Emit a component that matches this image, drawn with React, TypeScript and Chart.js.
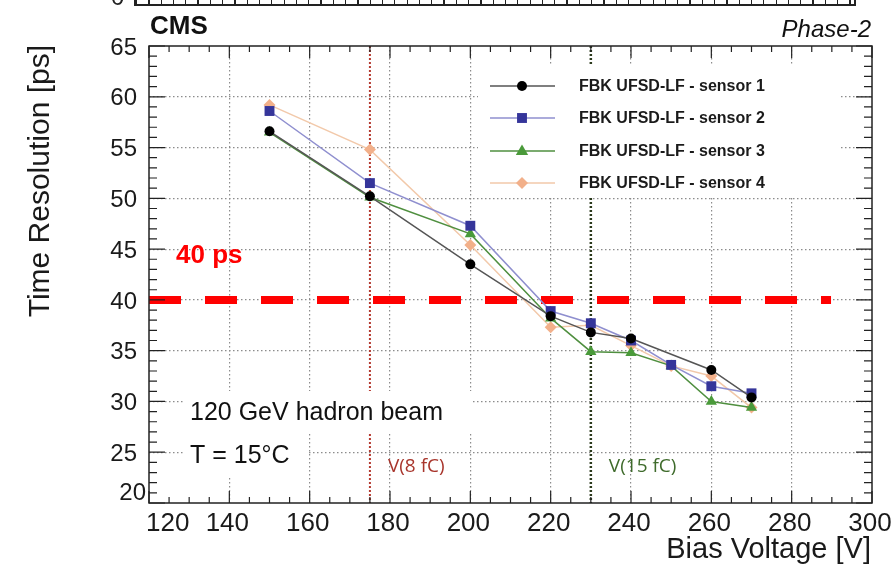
import React, { useEffect, useRef } from "react";
import { Chart, registerables } from "chart.js";

Chart.register(...registerables);

// ---------- data ----------
const seriesLabels = [
  "FBK UFSD-LF - sensor 1",
  "FBK UFSD-LF - sensor 2",
  "FBK UFSD-LF - sensor 3",
  "FBK UFSD-LF - sensor 4",
];
const voltagesSensor1 = [150, 175, 200, 220, 230, 240, 260, 270];
const voltagesOthers = [150, 175, 200, 220, 230, 240, 250, 260, 270];
const sensor1 = [56.6, 50.2, 43.5, 38.4, 36.8, 36.2, 33.1, 30.4];
const sensor2 = [58.6, 51.5, 47.3, 38.9, 37.7, 36.0, 33.6, 31.5, 30.8];
const sensor3 = [56.5, 50.1, 46.5, 38.2, 34.9, 34.8, 33.5, 30.0, 29.4];
const sensor4 = [59.2, 54.8, 45.4, 37.3, 37.5, 35.5, 33.5, 32.5, 29.4];

const xTickValues = [120, 140, 160, 180, 200, 220, 240, 260, 280, 300];
const yTickValues = [20, 25, 30, 35, 40, 45, 50, 55, 60, 65];
const xRange = [120, 300];
const yRange = [20, 65];

const thresholdValue = 40;
const thresholdSpan = [120, 289.8];
const thresholdLabel = "40 ps";

const chargeLineValues = [175, 230];
const chargeLineLabels = ["V(8 fC)", "V(15 fC)"];

const infoLines = ["120 GeV hadron beam", "T = 15°C"];

// ---------- styles ----------
const FONT = '"Liberation Sans", Arial, Helvetica, sans-serif';
const lineColors = ["#555555", "#8f8fcf", "#4f8f3f", "#f2c9aa"];
const markerColors = ["#000000", "#35359a", "#4a9a3a", "#f2b08a"];
const markerStyles = ["circle", "rect", "triangle", "rectRot"];
const markerRadii = [5, 7, 6.5, 6];

function drawMarker(ctx: CanvasRenderingContext2D, style: string, x: number, y: number, r: number, color: string) {
  ctx.fillStyle = color;
  ctx.beginPath();
  if (style === "circle") {
    ctx.arc(x, y, r, 0, Math.PI * 2);
  } else if (style === "rect") {
    const s = r * Math.SQRT1_2;
    ctx.rect(x - s, y - s, 2 * s, 2 * s);
  } else if (style === "triangle") {
    ctx.moveTo(x, y - r);
    ctx.lineTo(x + r * 0.95, y + r * 0.6);
    ctx.lineTo(x - r * 0.95, y + r * 0.6);
    ctx.closePath();
  } else {
    ctx.moveTo(x, y - r);
    ctx.lineTo(x + r, y);
    ctx.lineTo(x, y + r);
    ctx.lineTo(x - r, y);
    ctx.closePath();
  }
  ctx.fill();
}

const decorPlugin = {
  id: "decor",
  beforeDatasetsDraw(chart: any) {
    const { ctx, chartArea: a, scales } = chart;
    const x = scales.x;
    ctx.save();
    // charge reference lines
    const chargeColors = ["#b5392f", "#2b3a1c"];
    const chargeWidths = [2, 2.5];
    chargeLineValues.forEach((v, i) => {
      const px = x.getPixelForValue(v);
      ctx.strokeStyle = chargeColors[i];
      ctx.lineWidth = chargeWidths[i];
      ctx.setLineDash([2, 2]);
      ctx.beginPath();
      ctx.moveTo(px, a.top);
      ctx.lineTo(px, a.bottom);
      ctx.stroke();
    });
    ctx.setLineDash([]);

    // white boxes behind legend and text
    ctx.fillStyle = "#ffffff";
    ctx.fillRect(478, 64, 362, 132);
    ctx.fillRect(184, 391, 288, 42);
    ctx.fillRect(184, 433, 123, 45);

    // info text
    ctx.fillStyle = "#111111";
    ctx.font = `25px ${FONT}`;
    ctx.textAlign = "left";
    ctx.textBaseline = "middle";
    ctx.fillText(infoLines[0], 190, 413);
    ctx.fillText(infoLines[1], 190, 456);

    // charge labels
    const labelColors = ["#a8352c", "#3f6b2c"];
    ctx.font = `19px "Open Sans", ${FONT}`;
    chargeLineValues.forEach((v, i) => {
      ctx.fillStyle = labelColors[i];
      ctx.fillText(chargeLineLabels[i], x.getPixelForValue(v) + 18, 467);
    });

    // threshold label
    ctx.fillStyle = "#ff0000";
    ctx.font = `bold 26px ${FONT}`;
    ctx.fillText(thresholdLabel, 176, 256);

    // legend
    const rows = [86, 118, 151, 183];
    seriesLabels.forEach((lab, i) => {
      const ry = rows[i];
      ctx.strokeStyle = lineColors[i];
      ctx.lineWidth = 1.5;
      ctx.beginPath();
      ctx.moveTo(490, ry);
      ctx.lineTo(555, ry);
      ctx.stroke();
      drawMarker(ctx, markerStyles[i], 522, ry, markerRadii[i], markerColors[i]);
      ctx.fillStyle = "#1a1a1a";
      ctx.font = `bold 16px ${FONT}`;
      ctx.fillText(lab, 579, ry + 1);
    });
    ctx.restore();
  },
  afterDraw(chart: any) {
    const { ctx, chartArea: a, scales } = chart;
    const x = scales.x;
    const y = scales.y;
    ctx.save();
    ctx.strokeStyle = "#222222";
    ctx.lineWidth = 1.5;
    ctx.strokeRect(a.left, a.top, a.right - a.left, a.bottom - a.top);

    ctx.lineWidth = 1.2;
    ctx.beginPath();
    for (let v = xRange[0]; v <= xRange[1]; v += 5) {
      const px = x.getPixelForValue(v);
      const len = v % 20 === 0 ? 12 : 6;
      ctx.moveTo(px, a.bottom);
      ctx.lineTo(px, a.bottom - len);
      ctx.moveTo(px, a.top);
      ctx.lineTo(px, a.top + len);
    }
    for (let v = yRange[0]; v <= yRange[1]; v += 1) {
      const py = y.getPixelForValue(v);
      const len = v % 5 === 0 ? 16 : 8;
      ctx.moveTo(a.left, py);
      ctx.lineTo(a.left + len, py);
      ctx.moveTo(a.right, py);
      ctx.lineTo(a.right - len, py);
    }
    ctx.stroke();

    // tick labels
    ctx.fillStyle = "#1a1a1a";
    ctx.font = `26px ${FONT}`;
    ctx.textBaseline = "top";
    xTickValues.forEach((v, i) => {
      const px = x.getPixelForValue(v);
      ctx.textAlign = i === 0 ? "left" : "center";
      ctx.fillText(String(v), i === 0 ? px - 3 : px - 2, a.bottom + 8);
    });
    ctx.font = `24px ${FONT}`;
    ctx.textBaseline = "middle";
    ctx.textAlign = "right";
    yTickValues.forEach((v, i) => {
      const py = y.getPixelForValue(v);
      if (i === 0) {
        ctx.fillText(String(v), a.left - 3, py - 10);
      } else {
        ctx.fillText(String(v), a.left - 12, py + 2);
      }
    });

    // axis titles
    ctx.font = `29px ${FONT}`;
    ctx.textAlign = "right";
    ctx.textBaseline = "alphabetic";
    ctx.fillText("Bias Voltage [V]", a.right - 1, 558);
    ctx.save();
    ctx.font = `30px ${FONT}`;
    ctx.translate(41, 45);
    ctx.rotate(-Math.PI / 2);
    ctx.textBaseline = "middle";
    ctx.textAlign = "right";
    ctx.fillText("Time Resolution [ps]", 0, 0);
    ctx.restore();

    // CMS / Phase-2
    ctx.fillStyle = "#111111";
    ctx.textAlign = "left";
    ctx.textBaseline = "middle";
    ctx.font = `bold 26px ${FONT}`;
    ctx.fillText("CMS", a.left + 1, 27);
    ctx.textAlign = "right";
    ctx.font = `italic 24px ${FONT}`;
    ctx.fillText("Phase-2", a.right - 1, 30);
    ctx.restore();
  },
};

function toPoints(xs: number[], ys: number[]) {
  return xs.map((v, i) => ({ x: v, y: ys[i] }));
}

export default function App() {
  const canvasRef = useRef<HTMLCanvasElement | null>(null);

  useEffect(() => {
    const canvas = canvasRef.current;
    if (!canvas) return;
    const seriesX = [voltagesSensor1, voltagesOthers, voltagesOthers, voltagesOthers];
    const seriesY = [sensor1, sensor2, sensor3, sensor4];
    const datasets: any[] = seriesLabels.map((lab, i) => ({
      label: lab,
      data: toPoints(seriesX[i], seriesY[i]),
      borderColor: lineColors[i],
      borderWidth: 1.5,
      pointStyle: markerStyles[i],
      pointRadius: markerRadii[i],
      pointBackgroundColor: markerColors[i],
      pointBorderColor: markerColors[i],
      pointBorderWidth: 0,
      tension: 0,
      fill: false,
    }));
    datasets.push({
      label: "threshold",
      data: thresholdSpan.map((v) => ({ x: v, y: thresholdValue })),
      borderColor: "#ff0000",
      borderWidth: 8,
      borderDash: [32, 24],
      borderCapStyle: "butt",
      pointRadius: 0,
      fill: false,
    });

    const gridColor = (min: number, max: number) => (c: any) =>
      c.tick && (c.tick.value === min || c.tick.value === max) ? "rgba(0,0,0,0)" : "#8c8c8c";

    const chart = new Chart(canvas, {
      type: "line",
      data: { datasets },
      plugins: [decorPlugin],
      options: {
        animation: false,
        responsive: false,
        devicePixelRatio: 1,
        layout: { padding: { left: 149, right: 23, top: 46, bottom: 62 } },
        plugins: { legend: { display: false }, tooltip: { enabled: false } },
        scales: {
          x: {
            type: "linear",
            min: xRange[0],
            max: xRange[1],
            afterBuildTicks: (s: any) => {
              s.ticks = xTickValues.map((v) => ({ value: v }));
            },
            ticks: { display: false },
            border: { display: false, dash: [1.5, 2.5] },
            grid: {
              drawTicks: false,
              color: gridColor(xRange[0], xRange[1]),
              lineWidth: 1.2,
            },
          },
          y: {
            type: "linear",
            min: yRange[0],
            max: yRange[1],
            afterBuildTicks: (s: any) => {
              s.ticks = yTickValues.map((v) => ({ value: v }));
            },
            ticks: { display: false },
            border: { display: false, dash: [1.5, 2.5] },
            grid: {
              drawTicks: false,
              color: gridColor(yRange[0], yRange[1]),
              lineWidth: 1.2,
            },
          },
        },
      } as any,
    });
    return () => chart.destroy();
  }, []);

  const tickGradient =
    "repeating-linear-gradient(to right, #222 0px, #222 1.2px, transparent 1.2px, transparent 12.3px)";

  return (
    <div
      style={{
        position: "fixed",
        left: 0,
        top: 0,
        width: 895,
        height: 565,
        background: "#ffffff",
        overflow: "hidden",
      }}
    >
      <canvas ref={canvasRef} width={895} height={565} style={{ display: "block" }} />
      <div
        style={{
          position: "absolute",
          left: 134,
          top: -4,
          width: 718,
          height: 8,
          borderLeft: "2px solid #222",
          borderRight: "2px solid #222",
          borderBottom: "2px solid #222",
        }}
      >
        <div
          style={{
            position: "absolute",
            left: 0,
            right: 0,
            bottom: 0,
            height: 6,
            backgroundImage: tickGradient,
          }}
        />
      </div>
      <div
        style={{
          position: "absolute",
          left: 111,
          top: -15,
          fontFamily: FONT,
          fontSize: 24,
          color: "#222",
          lineHeight: "24px",
        }}
      >
        0
      </div>
    </div>
  );
}
